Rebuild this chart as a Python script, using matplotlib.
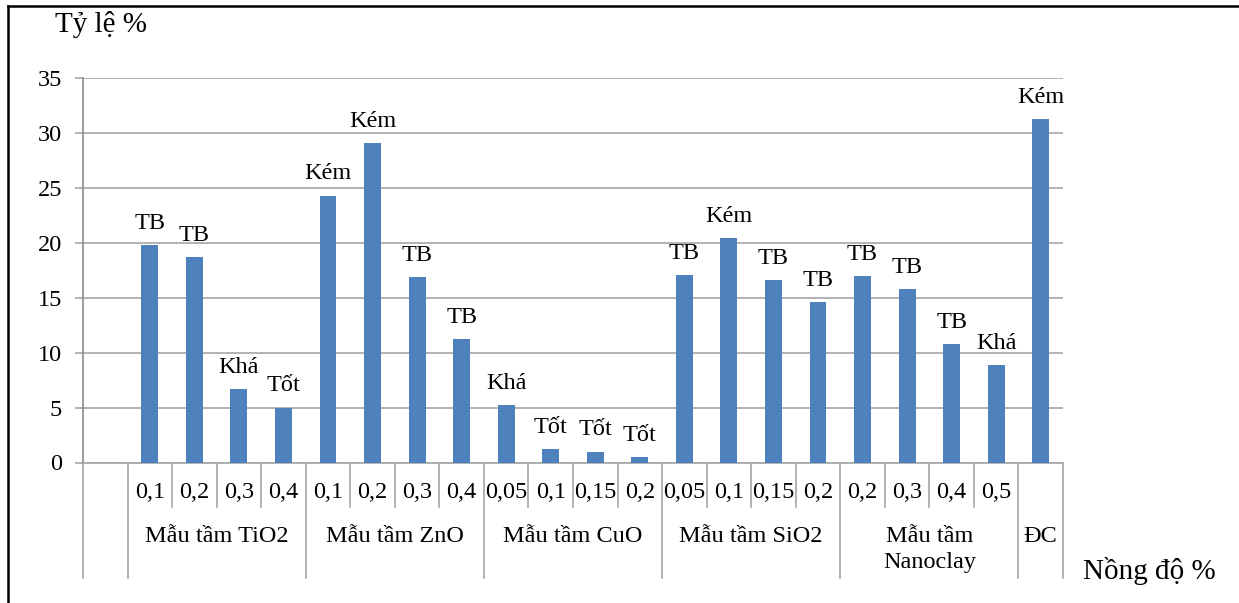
import numpy as np
import matplotlib
matplotlib.use("Agg")
import matplotlib.pyplot as plt
from matplotlib.lines import Line2D
from matplotlib.transforms import blended_transform_factory

plt.rcParams["font.family"] = ["Liberation Serif", "DejaVu Serif"]

# ── Data ─────────────────────────────────────────────────────────────────────
group_names = ["Mẫu tầm TiO2", "Mẫu tầm ZnO", "Mẫu tầm CuO",
               "Mẫu tầm SiO2", "Mẫu tầm\nNanoclay", "ĐC"]
group_conc = [
    ["0,1", "0,2", "0,3", "0,4"],
    ["0,1", "0,2", "0,3", "0,4"],
    ["0,05", "0,1", "0,15", "0,2"],
    ["0,05", "0,1", "0,15", "0,2"],
    ["0,2", "0,3", "0,4", "0,5"],
    [""],
]
values = [19.8, 18.7, 6.7, 5.0,
          24.3, 29.1, 16.9, 11.2,
          5.2, 1.2, 1.0, 0.5,
          17.1, 20.4, 16.6, 14.6,
          17.0, 15.8, 10.8, 8.9,
          31.3]
ratings = ["TB", "TB", "Khá", "Tốt",
           "Kém", "Kém", "TB", "TB",
           "Khá", "Tốt", "Tốt", "Tốt",
           "TB", "Kém", "TB", "TB",
           "TB", "TB", "TB", "Khá",
           "Kém"]

# ── Styles ───────────────────────────────────────────────────────────────────
C_BAR = "#4F81BD"
C_GRID = "#A6A6A6"
C_AXIS = "#8C8C8C"
FS = 17.5
FS_TITLE = 21

W_PX, H_PX = 1239, 603
fig = plt.figure(figsize=(W_PX / 100, H_PX / 100), dpi=100, facecolor="white")
ax = fig.add_axes([83 / W_PX, 1 - 462.5 / H_PX, 980 / W_PX, 384.5 / H_PX])

# first slot on the category axis is empty
x = np.arange(1, len(values) + 1)
n_cat = len(values) + 1
bars = ax.bar(x, values, width=0.38, color=C_BAR, zorder=3)
ax.bar_label(bars, labels=ratings, padding=8, fontsize=FS)

ax.set_xlim(-0.5, n_cat - 0.5)
ax.set_ylim(0, 35)
ax.set_yticks(np.arange(0, 36, 5))
ax.yaxis.grid(True, color=C_GRID, lw=1.2, zorder=0)
ax.tick_params(axis="y", length=6, width=1.2, color=C_GRID, pad=9, labelsize=FS)
ax.tick_params(axis="x", length=0, labelbottom=False)
for s in ["top", "right"]:
    ax.spines[s].set_visible(False)
ax.spines["left"].set_color(C_AXIS)
ax.spines["bottom"].set_color(C_GRID)
ax.spines["left"].set_linewidth(1.2)
ax.spines["bottom"].set_linewidth(1.2)

# ── Multi-level category axis ────────────────────────────────────────────────
tr = blended_transform_factory(ax.transData, ax.transAxes)
y_inner = (462.5 - 507) / 384.5
y_outer = (462.5 - 578) / 384.5
y_conc = (462.5 - 493) / 384.5
y_grp = (462.5 - 526) / 384.5

edges = [-0.5, 0.5]
pos = 1
for gname, concs in zip(group_names, group_conc):
    start = pos
    for j, c in enumerate(concs):
        ax.text(pos, y_conc, c, transform=tr, ha="center", va="center", fontsize=FS)
        if j > 0:
            ax.plot([pos - 0.5, pos - 0.5], [0, y_inner], transform=tr,
                    color=C_GRID, lw=1.2, clip_on=False)
        pos += 1
    edges.append(pos - 0.5)
    ax.text((start + pos - 1) / 2, y_grp, gname, transform=tr, ha="center",
            va="top", fontsize=FS, linespacing=1.32)

for e in edges:
    ax.plot([e, e], [0, y_outer], transform=tr, color=C_GRID, lw=1.2, clip_on=False)

# ── Axis titles ──────────────────────────────────────────────────────────────
fig.text(101 / W_PX, 1 - 25 / H_PX, "Tỷ lệ %", ha="center", va="center", fontsize=FS_TITLE)
fig.text(1149 / W_PX, 1 - 571 / H_PX, "Nồng độ %", ha="center", va="center", fontsize=FS_TITLE)

# ── Frame (left and top edge visible) ────────────────────────────────────────
fig.add_artist(Line2D([8 / W_PX, 8 / W_PX], [0, 1 - 6 / H_PX], color="black", lw=1.8))
fig.add_artist(Line2D([8 / W_PX, 1], [1 - 6 / H_PX, 1 - 6 / H_PX], color="black", lw=1.8))

fig.savefig("out.png", dpi=100, facecolor="white")
